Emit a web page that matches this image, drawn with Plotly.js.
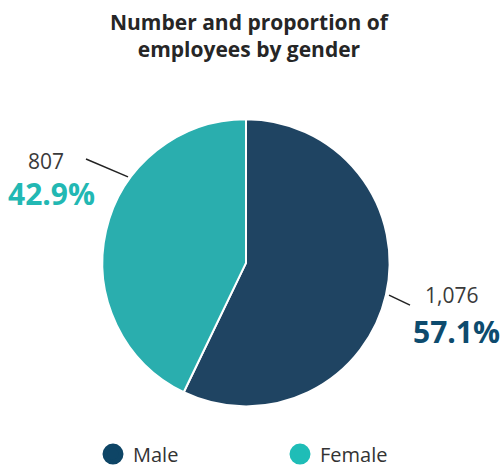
<!DOCTYPE html>
<html><head><meta charset="utf-8">
<script src="https://cdn.plot.ly/plotly-3.0.1.min.js"></script>
<style>html,body{margin:0;padding:0;background:#fff}#chart{width:502px;height:474px}</style>
</head><body><div id="chart"></div>
<script>
const categories = ["Male", "Female"];
const employees = [1076, 807];
const sliceColors = ["#1f4462", "#2aaeae"];
const legendColors = ["#0e4566", "#1fbdb7"];
const pctColors = ["#0d4b6e", "#22b8b3"];

const total = employees.reduce((a, b) => a + b, 0);
const pct = employees.map(v => (100 * v / total).toFixed(1) + "%");
const fmt = v => v.toLocaleString("en-US");

const W = 502, H = 474;
const px = x => x / W, py = y => 1 - y / H;

const traces = [{
  type: "pie",
  labels: categories,
  values: employees,
  sort: false,
  direction: "clockwise",
  rotation: 0,
  marker: {colors: sliceColors, line: {color: "#ffffff", width: 2}},
  textinfo: "none",
  hoverinfo: "label+value+percent",
  showlegend: false,
  domain: {x: [px(102), px(390)], y: [py(409), py(120)]}
}];
categories.forEach((c, i) => traces.push({
  type: "scatter", mode: "markers", x: [null], y: [null], name: c,
  marker: {color: legendColors[i], size: 16, line: {color: legendColors[i], width: 5}},
  showlegend: true, hoverinfo: "skip"
}));

// label anchor positions (pixels) for [Male, Female]
const labelPos = [{x: 451, yv: 297, yp: 334}, {x: 46, yv: 162, yp: 195}];
const annotations = [];
categories.forEach((c, i) => {
  annotations.push({xref: "paper", yref: "paper", x: px(labelPos[i].x), y: py(labelPos[i].yv),
    text: fmt(employees[i]), showarrow: false, xanchor: "center", yanchor: "middle",
    font: {size: 21, color: "#3a3a3a", family: "Open Sans, sans-serif"}});
  annotations.push({xref: "paper", yref: "paper", x: px(labelPos[i].x + 5), y: py(labelPos[i].yp),
    text: "<b>" + pct[i] + "</b>", showarrow: false, xanchor: "center", yanchor: "middle",
    font: {size: 30, color: pctColors[i], family: "Open Sans, sans-serif"}});
});

const layout = {
  width: W, height: H,
  margin: {l: 0, r: 0, t: 0, b: 0},
  paper_bgcolor: "#ffffff", plot_bgcolor: "#ffffff",
  font: {family: "Open Sans, sans-serif", color: "#262626"},
  title: {text: "<b>Number and proportion of<br>employees by gender</b>",
    font: {size: 21, color: "#262626", family: "Open Sans, sans-serif"},
    x: 0.496, xanchor: "center", y: py(30), yanchor: "middle"},
  xaxis: {visible: false}, yaxis: {visible: false},
  showlegend: true,
  legend: {orientation: "h", x: px(93), xanchor: "left", y: py(457), yanchor: "middle",
    font: {size: 20, color: "#333333"}, itemsizing: "trace",
    entrywidth: 142, entrywidthmode: "pixels"},
  shapes: [
    {type: "line", xref: "paper", yref: "paper", x0: px(86), y0: py(160), x1: px(128), y1: py(178), line: {color: "#222", width: 1.5}},
    {type: "line", xref: "paper", yref: "paper", x0: px(389), y0: py(297), x1: px(410), y1: py(307), line: {color: "#222", width: 1.5}}
  ],
  annotations: annotations
};
Plotly.newPlot("chart", traces, layout, {displayModeBar: false, staticPlot: true});
</script></body></html>
